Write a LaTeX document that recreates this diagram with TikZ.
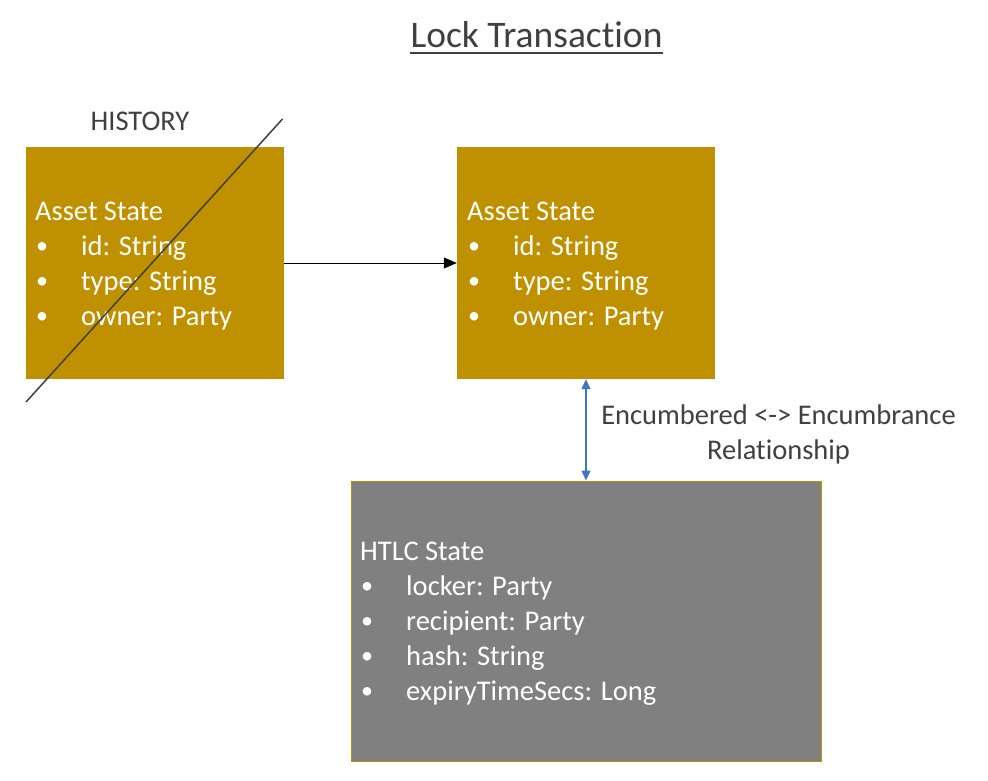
\documentclass[tikz,border=0pt]{standalone}
\usepackage{fontspec}
\setmainfont{Carlito}[Ligatures={NoCommon}]
\usetikzlibrary{arrows.meta}
\definecolor{gold}{HTML}{BF9000}
\definecolor{greybox}{HTML}{808080}
\definecolor{darktext}{HTML}{404040}
\definecolor{linkblue}{HTML}{4472C4}
\newcommand{\bitem}[1]{\makebox[46pt][l]{\hspace{1pt}\raisebox{1.5pt}{\fontsize{24}{35}\selectfont •}}#1}
\tikzset{
  assetbox/.style={fill=gold, draw=none, minimum width=258pt, minimum height=232pt, inner sep=0pt},
  htlcbox/.style={fill=greybox, draw=gold, line width=1pt, minimum width=470pt, minimum height=280pt, inner sep=0pt},
  boxtext/.style={anchor=base west, inner sep=0pt, text=white, font=\fontsize{28.5}{35}\selectfont},
  plaintext/.style={anchor=base, inner sep=0pt, text=darktext, font=\fontsize{28.5}{35}\selectfont},
}
\begin{document}
\begin{tikzpicture}[x=1pt,y=-1pt]
\useasboundingbox[fill=white] (0,0) rectangle (988,780);
% title
\node[anchor=base, inner sep=0pt, text=darktext, font=\fontsize{37.5}{45}\selectfont] (title) at (536.5,47) {Lock Transaction};
\draw[darktext, line width=2pt] ([yshift=-5.5pt]title.base west) -- ([yshift=-5.5pt]title.base east);
% boxes
\node[assetbox] (old) at (155,263) {};
\node[assetbox] (new) at (586,263) {};
\node[htlcbox] (htlc) at (586,621) {};
% contents
\node[boxtext] (oldtxt) at (35,220) {\begin{tabular}[t]{@{}l@{}}Asset State\\ \bitem{id: String}\\ \bitem{type: String}\\ \bitem{owner: Party}\end{tabular}};
\node[boxtext] (newtxt) at (467,220) {\begin{tabular}[t]{@{}l@{}}Asset State\\ \bitem{id: String}\\ \bitem{type: String}\\ \bitem{owner: Party}\end{tabular}};
\node[boxtext] (htlctxt) at (360,560) {\begin{tabular}[t]{@{}l@{}}HTLC State\\ \bitem{locker: Party}\\ \bitem{recipient: Party}\\ \bitem{hash: String}\\ \bitem{expiryTimeSecs: Long}\end{tabular}};
% history
\node[plaintext] (hist) at (140,130) {HISTORY};
\coordinate (crossA) at (26,402);
\coordinate (crossB) at (282.5,119);
\draw[darktext, line width=1.5pt] (crossA) -- (crossB);
% arrows
\draw[-{Triangle[length=13pt,width=11pt]}, line width=1pt, black] (old.east) -- (new.west);
\draw[{Triangle[length=10pt,width=9pt]}-{Triangle[length=10pt,width=9pt]}, line width=1.3pt, linkblue] (new.south) -- (htlc.north);
\node[plaintext] (rel) at (778.5,424) {\begin{tabular}[t]{@{}c@{}}Encumbered <-> Encumbrance\\ Relationship\end{tabular}};
\end{tikzpicture}
\end{document}
